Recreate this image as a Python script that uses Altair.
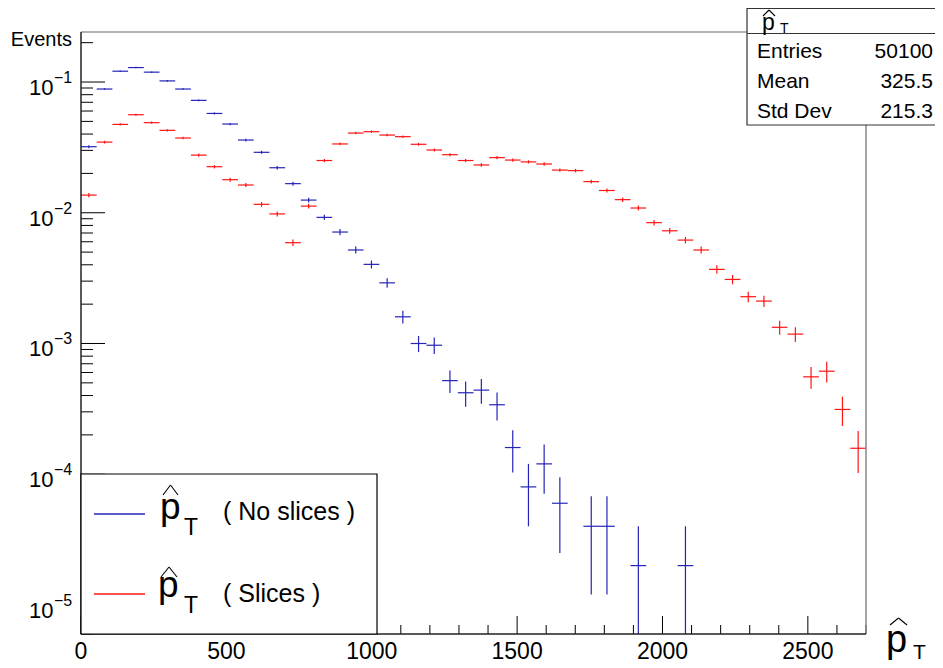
import altair as alt
import pandas as pd

# ---------------- data ----------------
X_MIN, X_MAX = 0, 2700
BIN_W = 54  # 50 bins from 0 to 2700

blue_vals = [0.032, 0.0884, 0.121, 0.129, 0.119, 0.102, 0.0884, 0.0724, 0.0575, 0.0477,
             0.036, 0.029, 0.0221, 0.0167, 0.0125, 0.00922, 0.00712, 0.00519, 0.00403, 0.00291,
             0.0016, 0.001, 0.00097, 0.00052, 0.00042, 0.00044, 0.00034, 0.00016, 0.00008, 0.00012,
             0.00006, 0, 0.00004, 0.00004, 0, 0.00002, 0, 0, 0.00002, 0,
             0, 0, 0, 0, 0, 0, 0, 0, 0, 0]
blue_errs = [0.0008, 0.00133, 0.00156, 0.00161, 0.00154, 0.00143, 0.00133, 0.0012, 0.00107, 0.00098,
             0.00085, 0.00076, 0.00066, 0.00058, 0.0005, 0.00043, 0.00038, 0.00032, 0.00028, 0.00024,
             0.000179, 0.000141, 0.000139, 0.000102, 0.000092, 0.000094, 0.000082, 0.000057, 0.00004, 0.000049,
             0.000035, 0, 0.000028, 0.000028, 0, 0.00002, 0, 0, 0.00002, 0,
             0, 0, 0, 0, 0, 0, 0, 0, 0, 0]
red_vals = [0.01365, 0.0347, 0.0474, 0.0562, 0.0489, 0.0427, 0.0373, 0.0276, 0.0225, 0.0179,
            0.0163, 0.0116, 0.0098, 0.0059, 0.01124, 0.0251, 0.0336, 0.0407, 0.0417, 0.0393,
            0.0382, 0.0334, 0.0302, 0.0278, 0.0251, 0.0232, 0.0264, 0.0253, 0.0245, 0.0236,
            0.0212, 0.021, 0.0173, 0.0148, 0.0126, 0.01087, 0.0084, 0.00728, 0.00618, 0.00519,
            0.00369, 0.00309, 0.00228, 0.00211, 0.00133, 0.00118, 0.000556, 0.000614, 0.000313, 0.000158]
red_errs = [0.00052, 0.00083, 0.00097, 0.00106, 0.00099, 0.00092, 0.00086, 0.00074, 0.00067, 0.0006,
            0.00057, 0.00048, 0.00044, 0.00034, 0.00047, 0.00071, 0.00082, 0.0009, 0.00091, 0.00089,
            0.00087, 0.00082, 0.00078, 0.00075, 0.00071, 0.00068, 0.00073, 0.00071, 0.0007, 0.00069,
            0.00065, 0.00065, 0.00059, 0.00054, 0.0005, 0.00047, 0.00041, 0.00038, 0.00035, 0.00032,
            0.00027, 0.00025, 0.00021, 0.000205, 0.000163, 0.000154, 0.000105, 0.000111, 0.000079, 0.000056]

series_names = ["No slices", "Slices"]
legend_labels = ["( No slices )", "( Slices )"]
x_tick_labels = [0, 500, 1000, 1500, 2000, 2500]
y_decades = [1e-1, 1e-2, 1e-3, 1e-4, 1e-5]
y_exponents = ["\u22121", "\u22122", "\u22123", "\u22124", "\u22125"]
stat_names = ["Entries", "Mean", "Std Dev"]
stat_values = ["50100", "325.5", "215.3"]

# ---------------- style ----------------
BLUE = "#2424b8"
RED = "#ff1414"
FONT = "Liberation Sans"
W, H = 785, 602
Y_MIN, Y_MAX = 10 ** -5.222, 10 ** -0.6174

rows = []
for name, vals, errs in [(series_names[0], blue_vals, blue_errs), (series_names[1], red_vals, red_errs)]:
    for i, (v, e) in enumerate(zip(vals, errs)):
        if v <= 0:
            continue
        lo = X_MIN + i * BIN_W
        rows.append(dict(series=name, xc=lo + BIN_W / 2, xlo=lo, xhi=lo + BIN_W,
                         y=v, ylo=max(v - e, Y_MIN), yhi=v + e))
df = pd.DataFrame(rows)

xs = alt.Scale(domain=[X_MIN, X_MAX], nice=False, zero=False)
ys = alt.Scale(type="log", domain=[Y_MIN, Y_MAX], nice=False)
col = alt.Color("series:N", scale=alt.Scale(domain=series_names, range=[BLUE, RED]), legend=None)

hbars = alt.Chart(df).mark_rule(strokeWidth=1.2, clip=True).encode(
    x=alt.X("xlo:Q", scale=xs, axis=None), x2="xhi:Q",
    y=alt.Y("y:Q", scale=ys, axis=None), color=col)
vbars = alt.Chart(df).mark_rule(strokeWidth=1.2, clip=True).encode(
    x=alt.X("xc:Q", scale=xs, axis=None),
    y=alt.Y("ylo:Q", scale=ys, axis=None), y2="yhi:Q", color=col)

# ticks
ymaj = pd.DataFrame({"v": y_decades})
ymin_vals = [k * 10.0 ** e for e in range(-6, 0) for k in range(2, 10) if Y_MIN <= k * 10.0 ** e <= Y_MAX]
ymin = pd.DataFrame({"v": ymin_vals})
xmaj = pd.DataFrame({"v": x_tick_labels})
xmin = pd.DataFrame({"v": [v for v in range(0, X_MAX + 1, 100) if v % 500 != 0]})

ytick_major = alt.Chart(ymaj).mark_rule(color="black", strokeWidth=1).encode(
    y=alt.Y("v:Q", scale=ys, axis=None), x=alt.value(0), x2=alt.value(24))
ytick_minor = alt.Chart(ymin).mark_rule(color="black", strokeWidth=1).encode(
    y=alt.Y("v:Q", scale=ys, axis=None), x=alt.value(0), x2=alt.value(12))
xtick_major = alt.Chart(xmaj).mark_rule(color="black", strokeWidth=1).encode(
    x=alt.X("v:Q", scale=xs, axis=None), y=alt.value(H), y2=alt.value(H - 18))
xtick_minor = alt.Chart(xmin).mark_rule(color="black", strokeWidth=1).encode(
    x=alt.X("v:Q", scale=xs, axis=None), y=alt.value(H), y2=alt.value(H - 9))

# tick labels
xlab = alt.Chart(xmaj).mark_text(font=FONT, fontSize=23, align="center", baseline="alphabetic",
                                 color="black").encode(
    x=alt.X("v:Q", scale=xs, axis=None), y=alt.value(627), text=alt.Text("v:Q", format="d"))
ylab_df = pd.DataFrame({"v": y_decades, "e": y_exponents})
ylab10 = alt.Chart(ylab_df).mark_text(font=FONT, fontSize=22, align="right", baseline="alphabetic",
                                      dy=13, color="black").encode(
    y=alt.Y("v:Q", scale=ys, axis=None), x=alt.value(-27.5), text=alt.value("10"))
ylabexp = alt.Chart(ylab_df).mark_text(font=FONT, fontSize=16, align="left", baseline="alphabetic",
                                       dy=1, color="black").encode(
    y=alt.Y("v:Q", scale=ys, axis=None), x=alt.value(-27), text="e:N")

dummy = pd.DataFrame({"d": [0]})


def txt(s, x, y, size, align="left", color="black"):
    return alt.Chart(dummy).mark_text(font=FONT, fontSize=size, align=align, baseline="alphabetic",
                                      color=color).encode(x=alt.value(x), y=alt.value(y), text=alt.value(s))


def seg(x1, y1, x2, y2, color="black", w=1.0):
    return alt.Chart(dummy).mark_rule(color=color, strokeWidth=w).encode(
        x=alt.value(x1), y=alt.value(y1), x2=alt.value(x2), y2=alt.value(y2))


def hat(x1, x2, ytop, ybot):
    xm = (x1 + x2) / 2
    return [seg(x1, ybot, xm, ytop, w=1.1), seg(xm, ytop, x2, ybot, w=1.1)]


# frame
frame = [
    seg(0, 0, W, 0, color="#666666", w=1.2),
    seg(W, 0, W, H, color="#888888", w=1.5),
    seg(0, 0, 0, H, color="#222222", w=1.5),
    seg(0, H, W, H, color="#222222", w=1.5),
]

# legend box
legend_box = alt.Chart(dummy).mark_rect(fill="white", stroke="black", strokeWidth=1.2).encode(
    x=alt.value(0), x2=alt.value(296), y=alt.value(442), y2=alt.value(602))
legend = [legend_box,
          seg(13, 482, 64, 482, color=BLUE, w=1.5),
          txt("p", 79, 487, 37), txt("T", 103, 503, 23), *hat(82, 97, 453, 463),
          txt(legend_labels[0], 142, 488, 25),
          seg(13, 562, 64, 562, color=RED, w=1.5),
          txt("p", 77, 565, 37), txt("T", 103, 581, 23), *hat(80, 96, 535, 545),
          txt(legend_labels[1], 142, 570, 25)]

# stats box
stat_box = alt.Chart(dummy).mark_rect(fill="white", stroke="#333333", strokeWidth=1.2).encode(
    x=alt.value(666), x2=alt.value(862), y=alt.value(-23.5), y2=alt.value(93))
stats = [stat_box, seg(666, 1.5, 862, 1.5, color="#333333", w=1.2),
         txt("p", 681, -2, 23), txt("T", 699, 0.5, 14), *hat(682, 694, -22, -16)]
for i, (n, v) in enumerate(zip(stat_names, stat_values)):
    yb = 26 + 30 * i
    stats.append(txt(n, 676, yb, 21))
    stats.append(txt(v, 852, yb, 21, align="right"))

# axis titles
titles = [txt("Events", -9, 14, 20, align="right"),
          txt("p", 805, 620, 38), txt("T", 832, 627, 21), *hat(809, 826, 586, 593)]

chart = alt.layer(
    ytick_major, ytick_minor, xtick_major, xtick_minor,
    hbars, vbars,
    *frame, *legend, *stats,
    xlab, ylab10, ylabexp, *titles,
).properties(
    width=W, height=H,
    padding={"left": 73, "top": 24, "right": 69, "bottom": 32},
    autosize=alt.AutoSizeParams(type="none"),
    background="white",
).configure_view(stroke=None)

chart.save("out.html", embed_options={"renderer": "svg", "actions": False})
